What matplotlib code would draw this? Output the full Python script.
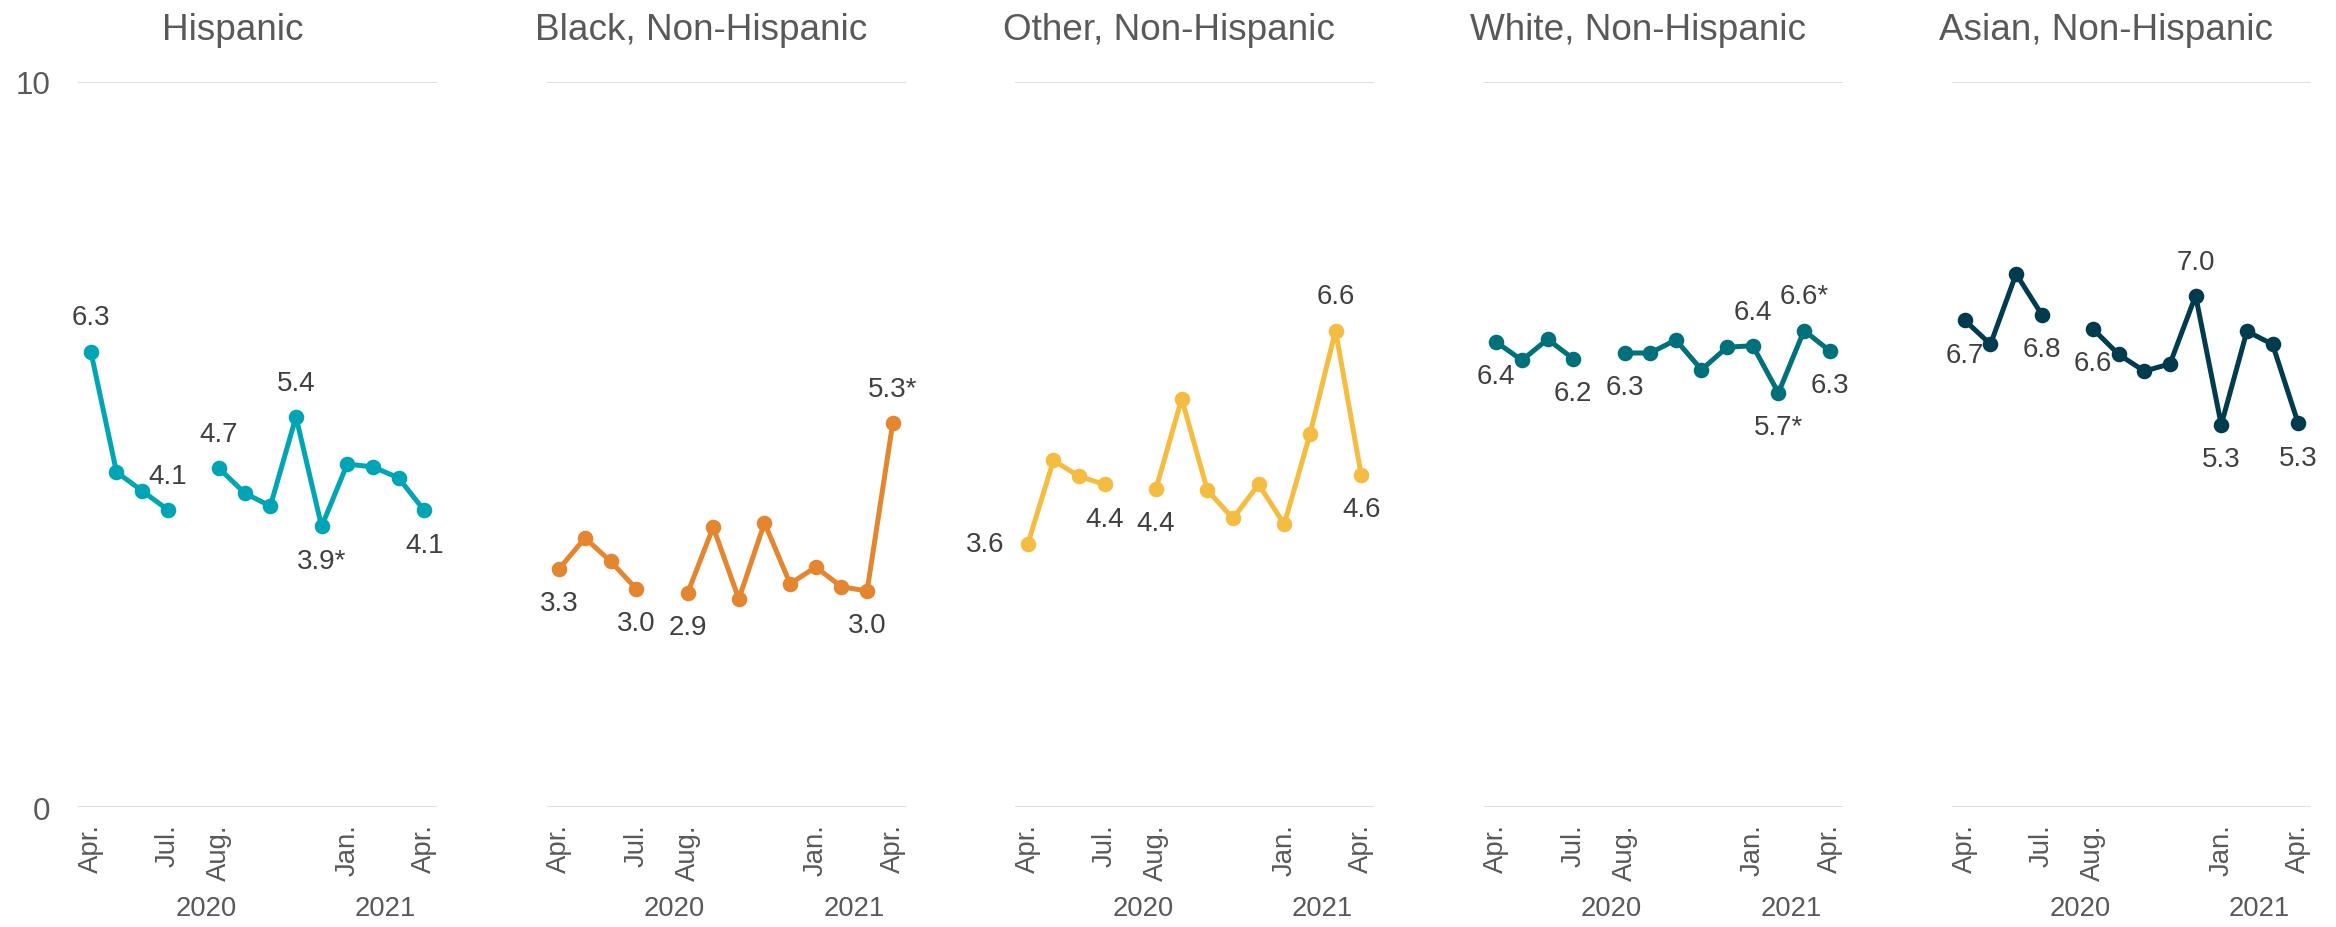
# -*- coding: utf-8 -*-
"""
small multiples: monthly rate by race/ethnicity, Apr 2020 - Apr 2021
"""

import matplotlib
matplotlib.use('Agg')
import matplotlib.pyplot as plt
from matplotlib import rcParams

rcParams['font.family'] = ['Liberation Sans', 'DejaVu Sans']

# months shown, gap in the series between Jul. and Aug. 2020
months = ['Apr.', 'May', 'Jun.', 'Jul.', 'Aug.', 'Sep.', 'Oct.', 'Nov.', 'Dec.',
          'Jan.', 'Feb.', 'Mar.', 'Apr.']
labelled_months = [0, 3, 4, 9, 12]
years = ['2020', '2021']

groups = ['Hispanic', 'Black, Non-Hispanic', 'Other, Non-Hispanic',
          'White, Non-Hispanic', 'Asian, Non-Hispanic']

hispanic = [6.28, 4.62, 4.36, 4.10, 4.67, 4.33, 4.15, 5.38, 3.87, 4.73, 4.69, 4.54, 4.09]
black = [3.29, 3.71, 3.39, 3.01, 2.95, 3.86, 2.87, 3.92, 3.08, 3.31, 3.04, 2.98, 5.29]
other = [3.63, 4.78, 4.56, 4.45, 4.39, 5.63, 4.37, 3.98, 4.45, 3.90, 5.14, 6.57, 4.58]
white = [6.41, 6.16, 6.45, 6.18, 6.26, 6.26, 6.44, 6.03, 6.34, 6.36, 5.71, 6.57, 6.29]
asian = [6.71, 6.38, 7.35, 6.79, 6.59, 6.24, 6.01, 6.11, 7.05, 5.27, 6.56, 6.38, 5.29]
series = [hispanic, black, other, white, asian]

# value labels: month index -> text
hispanic_labels = {0: '6.3', 3: '4.1', 4: '4.7', 7: '5.4', 8: '3.9*', 12: '4.1'}
black_labels = {0: '3.3', 3: '3.0', 4: '2.9', 11: '3.0', 12: '5.3*'}
other_labels = {0: '3.6', 3: '4.4', 4: '4.4', 11: '6.6', 12: '4.6'}
white_labels = {0: '6.4', 3: '6.2', 4: '6.3', 9: '6.4', 10: '5.7*', 11: '6.6*', 12: '6.3'}
asian_labels = {0: '6.7', 3: '6.8', 4: '6.6', 8: '7.0', 9: '5.3', 12: '5.3'}
labels = [hispanic_labels, black_labels, other_labels, white_labels, asian_labels]

# where each label sits relative to its point
placement = [
    {0: 'up', 3: 'up', 4: 'up', 7: 'up', 8: 'down', 12: 'down'},
    {0: 'down', 3: 'down', 4: 'down', 11: 'down', 12: 'up'},
    {0: 'left', 3: 'down', 4: 'down', 11: 'up', 12: 'down'},
    {0: 'down', 3: 'down', 4: 'down', 9: 'up', 10: 'down', 11: 'up', 12: 'down'},
    {0: 'down', 3: 'down', 4: 'down', 8: 'up', 9: 'down', 12: 'down'},
]

colors = ['#00A5B5', '#E3862F', '#F5BC42', '#00717A', '#003B4E']
grey = '#595959'
dark = '#404040'

# x position of each month, leaving one empty slot between Jul. and Aug.
xpos = [i if i < 4 else i + 1 for i in range(len(months))]

fig, axes = plt.subplots(1, 5, figsize=(11.68, 4.64), dpi=200)
fig.subplots_adjust(left=0.0334, right=0.9893, top=0.911, bottom=0.129, wspace=0.305)

for k, ax in enumerate(axes):
    vals = series[k]
    c = colors[k]
    # two pieces: Apr.-Jul. and Aug.-Apr.
    ax.plot(xpos[:4], vals[:4], color=c, lw=1.8, marker='o', ms=4.6,
            solid_capstyle='round', zorder=3)
    ax.plot(xpos[4:], vals[4:], color=c, lw=1.8, marker='o', ms=4.6,
            solid_capstyle='round', zorder=3)

    for i, txt in labels[k].items():
        where = placement[k][i]
        if where == 'up':
            off, ha = (0, 12.3), 'center'
        elif where == 'down':
            off, ha = (0, -12.3), 'center'
        else:
            off, ha = (-8.5, 0), 'right'
        ax.annotate(txt, xy=(xpos[i], vals[i]), xytext=off, textcoords='offset points',
                    ha=ha, va='center', fontsize=10, color=dark)

    ax.set_xlim(-0.5, 13.5)
    ax.set_ylim(0, 10)
    ax.set_yticks([0, 10])
    ax.grid(axis='y', color='#D9D9D9', lw=0.6)
    ax.set_axisbelow(True)
    for s in ax.spines.values():
        s.set_visible(False)

    ax.set_xticks([xpos[i] for i in labelled_months])
    ax.set_xticklabels([months[i] for i in labelled_months], rotation=90,
                       fontsize=9.9, color=grey)
    ax.tick_params(axis='x', length=0, pad=5.8)
    ax.tick_params(axis='y', length=0, pad=10, labelsize=11.3, labelcolor=grey)
    if k > 0:
        ax.tick_params(axis='y', labelleft=False)

    ax.set_title(groups[k], x=0.43, pad=15.4, fontsize=13.3, color=grey)

    # year labels under the month ticks
    for yr, xc in zip(years, [4.5, 11.5]):
        ax.annotate(yr, xy=(xc, 0), xycoords=('data', 'axes fraction'),
                    xytext=(0, -36.4), textcoords='offset points',
                    ha='center', va='center', fontsize=9.9, color=grey)

fig.savefig('out.png', dpi=200)
